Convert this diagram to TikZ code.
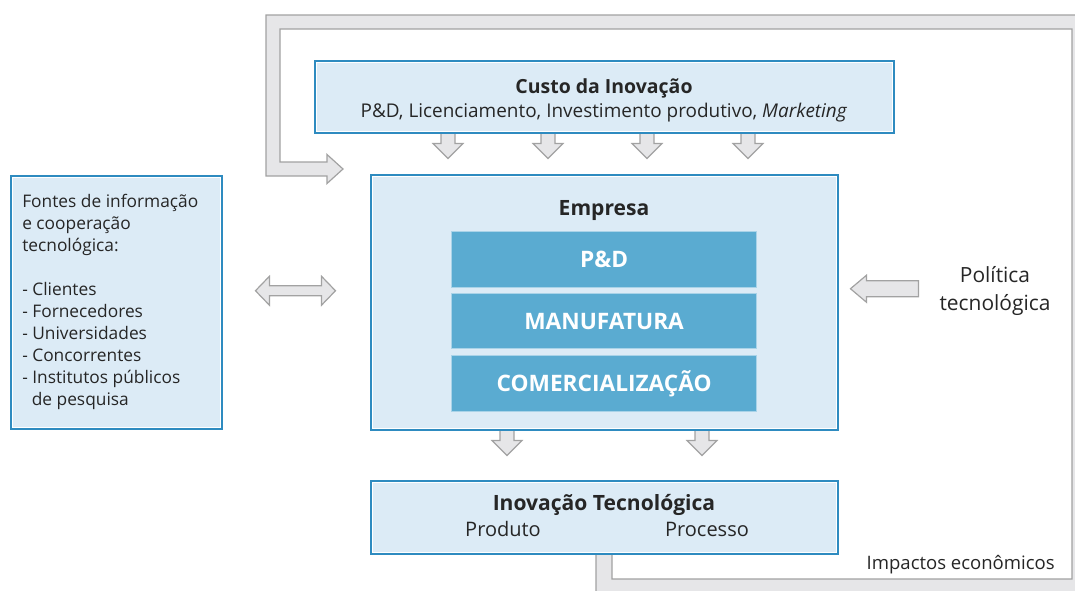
\documentclass[tikz,border=0pt]{standalone}
\usepackage{fontspec}
\setmainfont{Open Sans}
\usetikzlibrary{calc,backgrounds}
\definecolor{boxblue}{HTML}{2E8BC0}
\definecolor{boxfill}{HTML}{DCEBF6}
\definecolor{innerfill}{HTML}{5AABD1}
\definecolor{innerline}{HTML}{A9D3E8}
\definecolor{bandfill}{HTML}{E6E6E8}
\definecolor{bandline}{HTML}{A2A2A2}
\definecolor{txt}{HTML}{262626}
\newcommand{\pxu}{0.75pt}
\newcommand{\dnarrow}[1]{\filldraw[blockarrow] ($#1+(-7,-6)$) -- ($#1+(-7,11)$) -- ($#1+(-15,11)$) -- ($#1+(0,26)$) -- ($#1+(15,11)$) -- ($#1+(7,11)$) -- ($#1+(7,-6)$) -- cycle;}
\begin{document}
\begin{tikzpicture}[x=0.75pt, y=-0.75pt,
  box/.style={draw=white, line width=1.1pt, fill=boxfill, preaction={draw=boxblue, line width=4.1pt}, inner sep=0pt, anchor=north west},
  inner/.style={draw=innerline, line width=0.9pt, fill=innerfill, inner sep=0pt, anchor=north west, minimum width=305*\pxu, text=white, font=\fontsize{17}{18}\selectfont\bfseries},
  title/.style={text=txt, font=\fontsize{14.6}{16}\selectfont\bfseries, inner sep=0pt},
  body/.style={text=txt, font=\fontsize{14.2}{16}\selectfont, inner sep=0pt},
  blockarrow/.style={fill=bandfill, draw=bandline, line width=0.9pt, line join=miter},
  band/.style={fill=bandfill, draw=bandline, line width=0.9pt, line join=miter}]
\useasboundingbox (0,0) rectangle (1075,590);
% boxes
\node[box, minimum width=576*\pxu, minimum height=69*\pxu] (custo) at (316,62) {};
\node[box, minimum width=464*\pxu, minimum height=252*\pxu] (emp) at (372,176) {};
\node[box, minimum width=464*\pxu, minimum height=70*\pxu] (inov) at (372,482) {};
\node[box, minimum width=208*\pxu, minimum height=250*\pxu] (fontes) at (12,177) {};
\node[inner, minimum height=56*\pxu] (pd) at (451,231) {P\&D};
\node[inner, minimum height=55*\pxu] (manuf) at (451,293) {MANUFATURA};
\node[inner, minimum height=56*\pxu] (comerc) at (451,355) {COMERCIALIZAÇÃO};
% texts
\node[title] (custot) at (604,88) {Custo da Inovação};
\node[body] (custos) at (604,113) {P\&D, Licenciamento, Investimento produtivo, \textit{Marketing}};
\node[title, font=\fontsize{15.8}{17}\selectfont\bfseries] (empt) at (604,211) {Empresa};
\node[title, font=\fontsize{15.8}{17}\selectfont\bfseries] (inovt) at (604,505) {Inovação Tecnológica};
\node[body, font=\fontsize{15}{16}\selectfont] (prod) at (503,529) {Produto};
\node[body, font=\fontsize{15}{16}\selectfont] (proc) at (707,529) {Processo};
\node[body, anchor=north west, align=left, font=\fontsize{13}{16.5}\selectfont] (fontest) at (22,194)
  {Fontes de informação\\e cooperação\\tecnológica:\\~\\- Clientes\\- Fornecedores\\- Universidades\\- Concorrentes\\- Institutos públicos\\\hspace*{0.55em}de pesquisa};
\node[body, align=center, font=\fontsize{15.7}{21}\selectfont] (pol) at (995,291) {Política\\tecnológica};
\node[body, anchor=east, font=\fontsize{13.9}{16}\selectfont] (imp) at (1055,565) {Impactos econômicos};
% connectors
\coordinate (fbtip) at ($(emp.north west)+(-29,-7)$);
\coordinate (fbstart) at ($(inov.south west)+(224,-6)$);
\coordinate (fbin) at ($(inov.south west)+(240,-6)$);
\coordinate (dl) at ($(fontes.east)+(34,-12)$);
\coordinate (ptip) at ($(emp.east)+(13,-14)$);
\begin{scope}[on background layer]
\filldraw[band] (fbstart) -- (fbstart |- 0,600) -- (1090,600) -- (1090,15) -- (266,15) -- (266,176)
  -- ($(fbtip)+(-16,7)$) -- ($(fbtip)+(-16,14.5)$) -- (fbtip) -- ($(fbtip)+(-16,-14.5)$) -- ($(fbtip)+(-16,-7)$)
  -- (280,162) -- (280,29) -- (1072,29) -- (1072,579) -- (fbin |- 0,579) -- (fbin) -- cycle;
\dnarrow{(custo.south west)+(132,0)}
\dnarrow{(custo.south west)+(232,0)}
\dnarrow{(custo.south west)+(331,0)}
\dnarrow{(custo.south west)+(432,0)}
\dnarrow{(emp.south west)+(135,0)}
\dnarrow{(emp.south west)+(330,0)}
\filldraw[blockarrow] (dl) -- ++(14,-14.5) -- ++(0,9.5) -- ++(52,0) -- ++(0,-9.5) -- ++(14,14.5) -- ++(-14,14.5) -- ++(0,-9.5) -- ++(-52,0) -- ++(0,9.5) -- cycle;
\filldraw[blockarrow] (ptip) -- ++(16,-13.5) -- ++(0,5.5) -- ++(52,0) -- ++(0,16) -- ++(-52,0) -- ++(0,5.5) -- cycle;
\end{scope}
\end{tikzpicture}
\end{document}
